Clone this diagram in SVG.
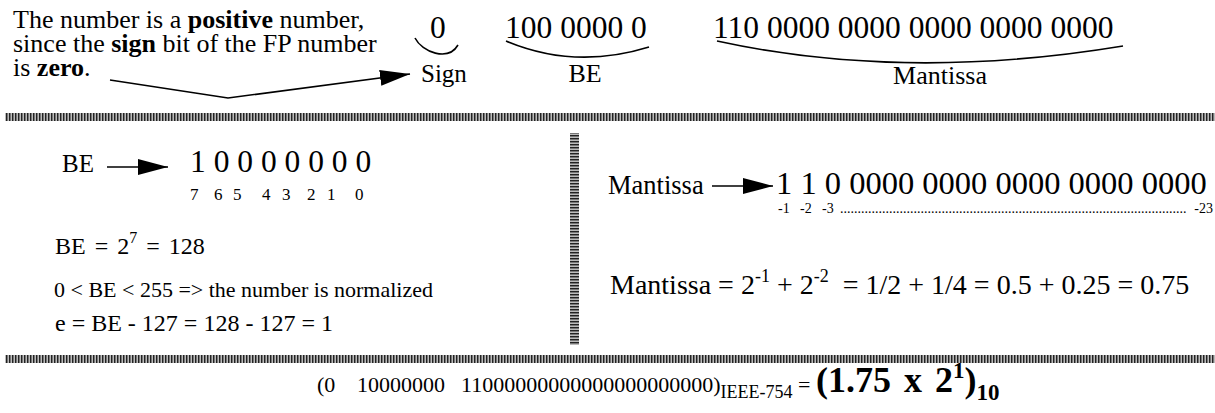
<svg xmlns="http://www.w3.org/2000/svg" width="1215" height="413" viewBox="0 0 1215 413">
<style>
text{font-family:"Liberation Serif","Times New Roman",serif;fill:#000}
.t26{font-size:26px}
.t25{font-size:25px}
.t22{font-size:22px}
.t27{font-size:26.5px}
.big{font-size:31.5px}
.idx{font-size:17px}
.sidx{font-size:14px}
.b{font-weight:bold}
.conn{fill:none;stroke:#000;stroke-width:1.6}
</style>
<defs>
<pattern id="vstripes" width="3" height="8" patternUnits="userSpaceOnUse">
<rect x="0" y="0" width="1" height="8" fill="#222"/>
<rect x="1" y="0" width="1" height="8" fill="#777"/>
<rect x="2" y="0" width="1" height="8" fill="#bbb"/>
</pattern>
<pattern id="hstripes" width="9" height="3" patternUnits="userSpaceOnUse">
<rect x="0" y="0" width="9" height="1" fill="#222"/>
<rect x="0" y="1" width="9" height="1" fill="#777"/>
<rect x="0" y="2" width="9" height="1" fill="#bbb"/>
</pattern>
<marker id="ah" viewBox="0 0 30 16" refX="30" refY="8" markerWidth="30" markerHeight="16" markerUnits="userSpaceOnUse" orient="auto">
<path d="M0,0 L30,8 L0,16 z" fill="#000"/>
</marker>
</defs>

<g id="dividers">
<rect x="5" y="113" width="1210" height="8" fill="url(#vstripes)"/>
<rect x="570" y="133" width="9" height="212" fill="url(#hstripes)"/>
<rect x="5" y="355" width="1210" height="8" fill="url(#vstripes)"/>
</g>

<g id="note">
<text class="t26" x="13" y="28">The number is a <tspan class="b">positive</tspan> number,</text>
<text class="t26" x="13" y="52">since the <tspan class="b">sign</tspan> bit of the FP number</text>
<text class="t26" x="13" y="76">is <tspan class="b">zero</tspan>.</text>
</g>

<g id="bits">
<text class="big" x="430" y="38">0</text>
<text class="big" x="505" y="38">100 0000 0</text>
<text class="big" x="713" y="38">110 0000 0000 0000 0000 0000</text>
</g>

<g id="labels">
<text class="t25" x="421" y="82">Sign</text>
<text class="t26" x="585" y="82" text-anchor="middle">BE</text>
<text class="t26" x="940" y="84" text-anchor="middle">Mantissa</text>
</g>

<g id="be-bits">
<text class="t25" x="62" y="172">BE</text>
<text class="big" x="190" y="172">1 0 0 0 0 0 0 0</text>
<text class="idx" x="190 214 233 262 282 307 327 355" y="200">76543210</text>
</g>

<g id="be-calc">
<text font-size="24" x="55" y="254" word-spacing="3">BE = 2<tspan font-size="16" dy="-11">7</tspan><tspan dy="11"> = 128</tspan></text>
<text class="t22" x="54" y="297">0 &lt; BE &lt; 255 =&gt; the number is normalized</text>
<text font-size="24" x="55" y="331">e = BE - 127 = 128 - 127 = 1</text>
</g>

<g id="mantissa-bits">
<text class="t27" x="608" y="194">Mantissa</text>
<text font-size="32.5" x="776" y="194">1 1 0 0000 0000 0000 0000 0000</text>
<text class="sidx" x="778" y="213">-1</text>
<text class="sidx" x="800" y="213">-2</text>
<text class="sidx" x="822" y="213">-3</text>
<text class="sidx" x="840" y="213">...................................................................................................</text>
<text class="sidx" x="1213" y="213" text-anchor="end">-23</text>
</g>

<g id="mantissa-calc">
<text font-size="28" x="610" y="294">Mantissa = 2<tspan font-size="18" dy="-12">-1</tspan><tspan dy="12"> + 2</tspan><tspan font-size="18" dy="-12">-2</tspan><tspan dy="12" xml:space="preserve">  = 1/2 + 1/4 = 0.5 + 0.25 = 0.75</tspan></text>
</g>

<g id="result">
<text class="t22" y="392"><tspan x="317">(0</tspan><tspan x="357">10000000</tspan><tspan x="461">11000000000000000000000)</tspan><tspan font-size="18" dy="6">IEEE-754</tspan><tspan dy="-6"> = </tspan><tspan class="b" font-size="36" word-spacing="4">(1.75 x 2</tspan><tspan class="b" font-size="23" dy="-14">1</tspan><tspan class="b" font-size="36" dy="14">)</tspan><tspan class="b" font-size="23" dy="8">10</tspan></text>
</g>

<g id="connectors">
<polyline class="conn" points="110,80 228,98 410,74" marker-end="url(#ah)"/>
<path class="conn" d="M415,38 C422,52 448,62 458,45"/>
<path class="conn" d="M506,41 Q575,70 649,47"/>
<path class="conn" d="M717,41 Q905,82 1123,46"/>
<line class="conn" x1="107" y1="167" x2="168" y2="167" marker-end="url(#ah)"/>
<line class="conn" x1="712" y1="186" x2="773" y2="186" marker-end="url(#ah)"/>
</g>
</svg>
